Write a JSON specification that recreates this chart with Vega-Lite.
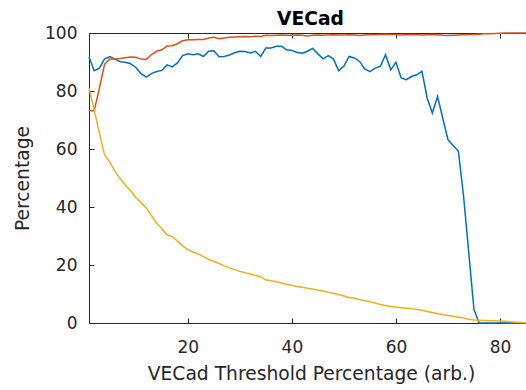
{
  "$schema": "https://vega.github.io/schema/vega-lite/v6.json",
  "width": 437,
  "height": 290,
  "autosize": {"type": "none"},
  "padding": {"left": 89, "top": 33, "right": 0, "bottom": 67},
  "background": "white",
  "title": {"text": "VECad", "font": "DejaVu Sans", "fontSize": 18.7, "fontWeight": "bold", "color": "#000000", "anchor": "middle", "offset": -5, "dx": 3},
  "config": {"view": {"stroke": null}},
  "datasets": {
    "blue": [91.7,87.0,87.9,91.1,91.9,91.0,90.1,89.9,89.4,88.1,86.0,84.8,86.0,86.7,87.1,89.0,88.3,89.7,92.2,92.8,92.5,92.8,91.9,93.7,93.9,91.8,91.9,92.4,93.2,93.7,93.6,93.1,93.7,91.9,94.8,94.8,95.4,95.4,94.2,94.0,93.3,93.0,93.7,94.7,92.8,91.1,92.2,91.0,87.0,88.6,91.9,91.4,90.2,87.6,86.7,87.9,88.5,92.5,87.3,89.9,84.5,83.9,85.0,85.6,86.8,77.6,72.4,78.1,70.6,63.2,61.2,59.2,43.7,24.2,4.6,0,0,0,0,0,0,0,0,0,0],
    "orange": [73.2,73.2,81.0,89.3,91.0,91.0,91.2,91.5,91.7,91.6,91.0,90.9,92.5,93.7,94.2,95.5,95.6,96.3,97.3,97.7,97.7,97.8,97.8,98.3,98.5,98.0,98.3,98.5,98.6,98.7,98.8,98.7,98.9,98.8,99.2,99.1,99.2,99.3,99.2,99.2,99.3,99.2,99.0,99.2,99.3,99.2,99.3,99.4,99.3,99.3,99.4,99.3,99.1,99.3,99.5,99.4,99.5,99.6,99.5,99.5,99.3,99.4,99.5,99.4,99.3,99.4,99.5,99.4,99.2,99.1,99.2,99.3,99.4,99.5,99.5,99.6,99.7,99.7,99.8,99.9,100,100,100,100,100],
    "yellow": [81.0,73.5,65.5,58.0,55.5,52.3,49.8,47.5,45.6,43.3,41.5,39.7,37.0,34.4,32.5,30.4,29.8,28.3,26.6,25.3,24.5,23.8,22.9,21.9,21.2,20.5,19.7,19.0,18.4,17.8,17.3,16.9,16.4,16.0,14.8,14.6,14.2,13.8,13.3,13.0,12.6,12.3,12.0,11.7,11.3,11.0,10.6,10.2,9.8,9.3,8.8,8.5,8.1,7.7,7.3,6.9,6.4,6.0,5.7,5.5,5.3,5.1,4.9,4.7,4.4,4.0,3.6,3.2,2.9,2.6,2.3,2.1,1.7,1.3,1.0,0.9,0.9,0.8,0.8,0.7,0.6,0.4,0.3,0.2,0.1]
  },
  "layer": [
    {
      "data": {"name": "blue"},
      "transform": [{"window": [{"op": "row_number", "as": "x"}]}],
      "mark": {"type": "line", "color": "#0072BD", "strokeWidth": 1.5},
      "encoding": {
        "x": {"field": "x", "type": "quantitative", "scale": {"domain": [1, 85], "nice": false, "zero": false},
          "axis": {"orient": "bottom", "values": [20, 40, 60, 80], "title": "VECad Threshold Percentage (arb.)", "grid": false,
            "tickSize": -5, "tickColor": "#262626", "domainColor": "#262626", "labelColor": "#262626", "titleColor": "#262626",
            "labelFont": "DejaVu Sans", "labelFontSize": 17, "titleFont": "DejaVu Sans", "titleFontSize": 18.7, "titleFontWeight": "normal",
            "labelPadding": 21, "titlePadding": 9, "titleX": 222}},
        "y": {"field": "data", "type": "quantitative", "scale": {"domain": [0, 100], "nice": false},
          "axis": {"values": [0, 20, 40, 60, 80, 100], "title": "Percentage", "grid": false,
            "tickSize": -5, "tickColor": "#262626", "domainColor": "#262626", "labelColor": "#262626", "titleColor": "#262626",
            "labelFont": "DejaVu Sans", "labelFontSize": 17, "titleFont": "DejaVu Sans", "titleFontSize": 18.7, "titleFontWeight": "normal",
            "labelPadding": 17, "titlePadding": 12}}
      }
    },
    {
      "data": {"name": "orange"},
      "transform": [{"window": [{"op": "row_number", "as": "x"}]}],
      "mark": {"type": "line", "color": "#D95319", "strokeWidth": 1.5},
      "encoding": {
        "x": {"field": "x", "type": "quantitative",
          "axis": {"orient": "top", "values": [20, 40, 60, 80], "title": null, "labels": false, "grid": false,
            "tickSize": -5, "tickColor": "#262626", "domainColor": "#262626"}},
        "y": {"field": "data", "type": "quantitative"}
      }
    },
    {
      "data": {"name": "yellow"},
      "transform": [{"window": [{"op": "row_number", "as": "x"}]}],
      "mark": {"type": "line", "color": "#EDB120", "strokeWidth": 1.5},
      "encoding": {
        "x": {"field": "x", "type": "quantitative", "axis": null},
        "y": {"field": "data", "type": "quantitative"}
      }
    }
  ],
  "resolve": {"axis": {"x": "independent"}}
}
